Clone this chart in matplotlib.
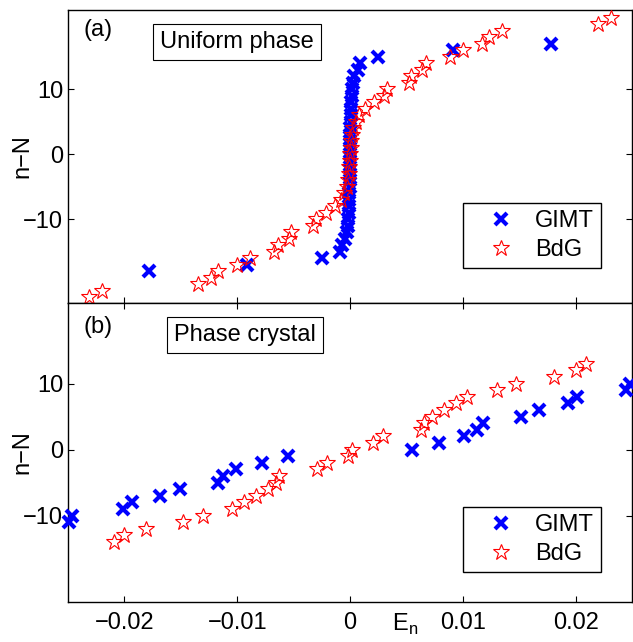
import matplotlib
matplotlib.use("Agg")
import matplotlib.pyplot as plt

plt.rcParams['font.family'] = ['Liberation Sans', 'DejaVu Sans']
plt.rcParams['mathtext.fontset'] = 'custom'
plt.rcParams['mathtext.rm'] = 'Liberation Sans'

# panel (a): uniform phase
gimt_a_n = [-18, -17, -16, -15, -14, -13, -12, -11, -10, -9, -8, -7, -6, -5, -4, -3, -2, -1,
            0, 1, 2, 3, 4, 5, 6, 7, 8, 9, 10, 11, 12, 13, 14, 15, 16, 17]
gimt_a_E = [-0.0178, -0.0091, -0.0025, -0.0009, -0.0007, -0.0004, -0.0003, -0.0002, -0.0002,
            -0.0001, -0.0001, -0.0001, -0.0001, 0.0, 0.0, 0.0, 0.0, 0.0,
            0.0, 0.0, 0.0, 0.0, 0.0, 0.0001, 0.0001, 0.0001, 0.0001, 0.0002, 0.0002,
            0.0003, 0.0004, 0.0007, 0.0009, 0.0025, 0.0091, 0.0178]

bdg_a_n = [-22, -21, -20, -19, -18, -17, -16, -15, -14, -13, -12, -11, -10, -9, -8, -7, -6,
           -5, -4, -3, -2, -1, 0, 1, 2, 3, 4, 5, 6, 7, 8, 9, 10, 11, 12, 13, 14, 15, 16, 17,
           18, 19, 20, 21]
bdg_a_E = [-0.0231, -0.0220, -0.0135, -0.0123, -0.0117, -0.0100, -0.0089, -0.0067, -0.0064,
           -0.0054, -0.0052, -0.0033, -0.0030, -0.0021, -0.0013, -0.0008, -0.0005, -0.0003,
           -0.0002, -0.0001, -0.0001, 0.0, 0.0, 0.0001, 0.0001, 0.0002, 0.0003, 0.0005,
           0.0008, 0.0013, 0.0021, 0.0030, 0.0033, 0.0052, 0.0054, 0.0064, 0.0067, 0.0089,
           0.0100, 0.0117, 0.0123, 0.0135, 0.0220, 0.0231]

# panel (b): phase crystal
gimt_b_n = [-11, -10, -9, -8, -7, -6, -5, -4, -3, -2, -1, 0, 1, 2, 3, 4, 5, 6, 7, 8, 9, 10]
gimt_b_E = [-0.0249, -0.0246, -0.0201, -0.0193, -0.0168, -0.0151, -0.0117, -0.0113, -0.0101,
            -0.0078, -0.0055, 0.0055, 0.0079, 0.0101, 0.0113, 0.0118, 0.0152, 0.0168, 0.0193,
            0.0201, 0.0245, 0.0248]

bdg_b_n = [-14, -13, -12, -11, -10, -9, -8, -7, -6, -5, -4, -3, -2, -1,
           0, 1, 2, 3, 4, 5, 6, 7, 8, 9, 10, 11, 12, 13]
bdg_b_E = [-0.0209, -0.0200, -0.0181, -0.0148, -0.0130, -0.0105, -0.0094, -0.0083, -0.0073,
           -0.0066, -0.0063, -0.0029, -0.0020, -0.0002, 0.0002, 0.0020, 0.0029, 0.0063,
           0.0066, 0.0073, 0.0083, 0.0094, 0.0104, 0.0130, 0.0147, 0.0181, 0.0200, 0.0209]

xticks = [-0.02, -0.01, 0, 0.01, 0.02]
xticklabels = ['\u22120.02', '\u22120.01', '0', '0.01', '0.02']
yticks = [-10, 0, 10]
yticklabels = ['\u221210', '0', '10']

fs = 17

fig = plt.figure(figsize=(6.33, 6.42), dpi=100)
ax1 = fig.add_axes([0.1074, 0.528, 0.891, 0.4564])
ax2 = fig.add_axes([0.1074, 0.0623, 0.891, 0.4657])

panels = [
    (ax1, gimt_a_E, gimt_a_n, bdg_a_E, bdg_a_n, (-22.9, 22.2), '(a)', 0.932, 'Uniform phase',
     0.30, 0.119),
    (ax2, gimt_b_E, gimt_b_n, bdg_b_E, bdg_b_n, (-23.1, 22.2), '(b)', 0.92, 'Phase crystal',
     0.314, 0.100),
]

for ax, gE, gn, bE, bn, ylim, tag, tagy, name, boxx, legy in panels:
    ax.plot(gE, gn, 'x', color='#0000ff', ms=8.5, mew=3, label='GIMT', clip_on=False, zorder=3)
    ax.plot(bE, bn, '*', color='#ff0000', mfc='none', mec='#ff0000', ms=12, mew=0.8,
            label='BdG', clip_on=False, zorder=3)
    ax.set_xlim(-0.025, 0.025)
    ax.set_ylim(*ylim)
    ax.set_xticks(xticks)
    ax.set_yticks(yticks)
    ax.set_yticklabels(yticklabels, fontsize=fs)
    ax.tick_params(direction='in', length=4, width=0.8, right=True, labelsize=fs)
    ax.tick_params(axis='x', pad=7)
    ax.set_ylabel('n\u2212N', fontsize=fs)
    ax.yaxis.set_label_coords(-0.062, 0.5)
    for s in ax.spines.values():
        s.set_linewidth(1.0)
    ax.text(0.027, tagy, tag, transform=ax.transAxes, fontsize=fs, va='center', ha='left')
    ax.text(boxx, 0.892, name, transform=ax.transAxes, fontsize=fs, ha='center', va='center',
            bbox=dict(boxstyle='square,pad=0.3', fc='white', ec='black', lw=0.8))
    leg = ax.legend(loc='lower right', bbox_to_anchor=(0.945, legy), fontsize=fs,
                    fancybox=False, framealpha=1, edgecolor='black', handlelength=2.6,
                    handletextpad=0.15, borderpad=0.3, labelspacing=0.3, borderaxespad=0)
    leg.get_frame().set_linewidth(1.0)

ax1.tick_params(axis='x', top=False, labelbottom=False)
ax2.tick_params(axis='x', top=True)
ax2.set_xticklabels(xticklabels, fontsize=fs)

fig.text(392 / 633, 1 - 624 / 642, r'E$_{\mathrm{n}}$', fontsize=fs, ha='left', va='center')

fig.savefig('out.png', dpi=100)
